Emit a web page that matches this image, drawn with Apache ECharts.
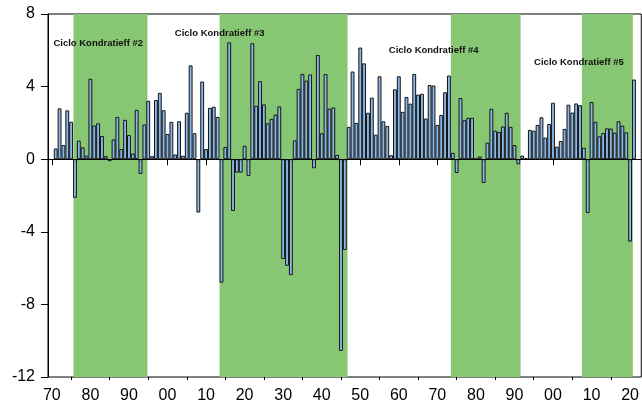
<!DOCTYPE html>
<html>
<head>
<meta charset="utf-8">
<script src="https://cdn.jsdelivr.net/npm/echarts@6/dist/echarts.min.js"></script>
<style>
  html, body { margin: 0; padding: 0; background: #fff; }
  #chart { width: 642px; height: 408px; }
</style>
</head>
<body>
<div id="chart"></div>
<script>
// annual values 1871-2021
var firstYear = 1871;
var values = [
  0.59, 2.80, 0.78, 2.69, 2.06, -2.13, 1.02, 0.65, 0.19, 4.43,   // 1871-1880
  1.85, 1.98, 1.28, 0.17, -0.11, 1.09, 2.33, 0.56, 2.17, 1.33,   // 1881-1890
  0.31, 2.72, -0.81, 1.91, 3.22, 0.17, 3.26, 3.65, 2.70, 1.39,   // 1891-1900
  2.06, 0.26, 2.09, 0.19, 2.56, 5.17, 1.43, -2.94, 4.28, 0.56,   // 1901-1910
  2.83, 2.89, 2.33, -6.80, 0.67, 6.44, -2.85, -0.74, -0.74, 0.74, // 1911-1920
  -0.93, 6.39, 2.94, 4.30, 3.02, 1.98, 2.22, 2.46, 2.91, -5.50,  // 1921-1930
  -5.87, -6.39, 1.04, 3.87, 4.70, 4.33, 4.67, -0.50, 5.74, 1.43, // 1931-1940
  4.69, 2.78, 2.85, 0.24, -10.56, -5.00, 1.78, 4.83, 2.00, 6.15, // 1941-1950
  5.28, 2.56, 3.39, 1.35, 4.57, 2.09, 1.83, 0.22, 3.85, 4.57,    // 1951-1960
  2.61, 3.43, 3.06, 4.70, 3.56, 3.61, 2.24, 4.09, 4.06, 1.89,    // 1961-1970
  2.44, 3.69, 4.61, 0.35, -0.76, 3.37, 2.15, 2.28, 2.28, 0.03,   // 1971-1980
  0.15, -1.31, 0.91, 2.78, 1.57, 1.50, 1.80, 2.56, 1.78, 0.78,   // 1981-1990
  -0.28, 0.20, 0.05, 1.61, 1.57, 1.89, 2.31, 1.19, 1.94, 3.11,   // 1991-2000
  0.69, 1.00, 1.67, 3.00, 2.57, 3.07, 2.98, 0.63, -2.96, 3.15,   // 2001-2010
  2.06, 1.26, 1.44, 1.70, 1.69, 1.46, 2.09, 1.85, 1.48, -4.54,   // 2011-2020
  4.39                                                           // 2021
];

// shaded Kondratieff phases [from, to] in years
var bandStart = [1875.6, 1913.5, 1973.5, 2007.5];
var bandEnd   = [1894.8, 1946.7, 1991.6, 2020.7];

// cycle labels: text, year of left edge, value of text middle
var cycleNames  = ['Ciclo Kondratieff #2', 'Ciclo Kondratieff #3', 'Ciclo Kondratieff #4', 'Ciclo Kondratieff #5'];
var cycleYears  = [1870.4, 1901.9, 1957.4, 1995.1];
var cycleLevels = [6.38, 6.95, 5.97, 5.31];

var majorTicks = [1870, 1880, 1890, 1900, 1910, 1920, 1930, 1940, 1950, 1960, 1970, 1980, 1990, 2000, 2010, 2020];
var minorTicks = [1875, 1885, 1895, 1905, 1915, 1925, 1935, 1945, 1955, 1965, 1975, 1985, 1995, 2005, 2015];

var xMin = 1869, xMax = 2022.9;
var gridLeft = 48, gridRight = -2;

var chart = echarts.init(document.getElementById('chart'));
var font = '"Liberation Sans", Arial, sans-serif';
var barPx = (642 - gridLeft - gridRight) / (xMax - xMin);

var points = values.map(function (v, i) { return [firstYear + i, v]; });

chart.setOption({
    animation: false,
    grid: {left: gridLeft, right: gridRight, top: 14, bottom: 31, show: true, borderColor: '#000', borderWidth: 1},
    xAxis: [{
        type: 'value',
        min: xMin,
        max: xMax,
        position: 'bottom',
        splitLine: {show: false},
        axisLine: {show: true, lineStyle: {color: '#000', width: 1}},
        axisTick: {show: true, length: 6, customValues: majorTicks, lineStyle: {color: '#000'}},
        axisLabel: {
            customValues: majorTicks,
            margin: 11,
            color: '#000',
            fontSize: 16,
            fontFamily: font,
            formatter: function (v) {
                var s = String(Math.round(v) % 100);
                return s.length < 2 ? '0' + s : s;
            }
        }
    }, {
        type: 'value',
        min: xMin,
        max: xMax,
        position: 'bottom',
        offset: 0,
        splitLine: {show: false},
        axisLine: {show: false},
        axisTick: {show: true, length: 3, customValues: minorTicks, lineStyle: {color: '#000'}},
        axisLabel: {show: false}
    }],
    yAxis: {
        type: 'value',
        min: -12,
        max: 8,
        interval: 4,
        splitLine: {show: false},
        axisLine: {show: true, lineStyle: {color: '#000'}},
        axisTick: {show: true, length: 7, lineStyle: {color: '#000'}},
        axisLabel: {color: '#000', fontSize: 16, fontFamily: font, margin: 13}
    },
    series: [{
        type: 'line',
        xAxisIndex: 0,
        data: [],
        z: 1,
        silent: true,
        markArea: {
            silent: true,
            itemStyle: {color: '#87c672', opacity: 1},
            data: bandStart.map(function (s, i) { return [{xAxis: s}, {xAxis: bandEnd[i]}]; })
        }
    }, {
        type: 'bar',
        xAxisIndex: 0,
        data: points,
        z: 2,
        barWidth: barPx,
        itemStyle: {color: '#8ab8e8', borderColor: '#141414', borderWidth: 1},
        markLine: {
            silent: true,
            symbol: 'none',
            label: {show: false},
            lineStyle: {color: '#000', width: 1, type: 'solid'},
            data: [{yAxis: 0}]
        },
        markPoint: {
            silent: true,
            symbol: 'circle',
            symbolSize: 0,
            label: {
                show: true,
                position: 'right',
                distance: 0,
                color: '#111',
                fontWeight: 'bold',
                fontSize: 9.5,
                fontFamily: font,
                formatter: function (p) { return p.name; }
            },
            data: cycleNames.map(function (n, i) {
                return {name: n, coord: [cycleYears[i], cycleLevels[i]]};
            })
        }
    }]
});
</script>
</body>
</html>
